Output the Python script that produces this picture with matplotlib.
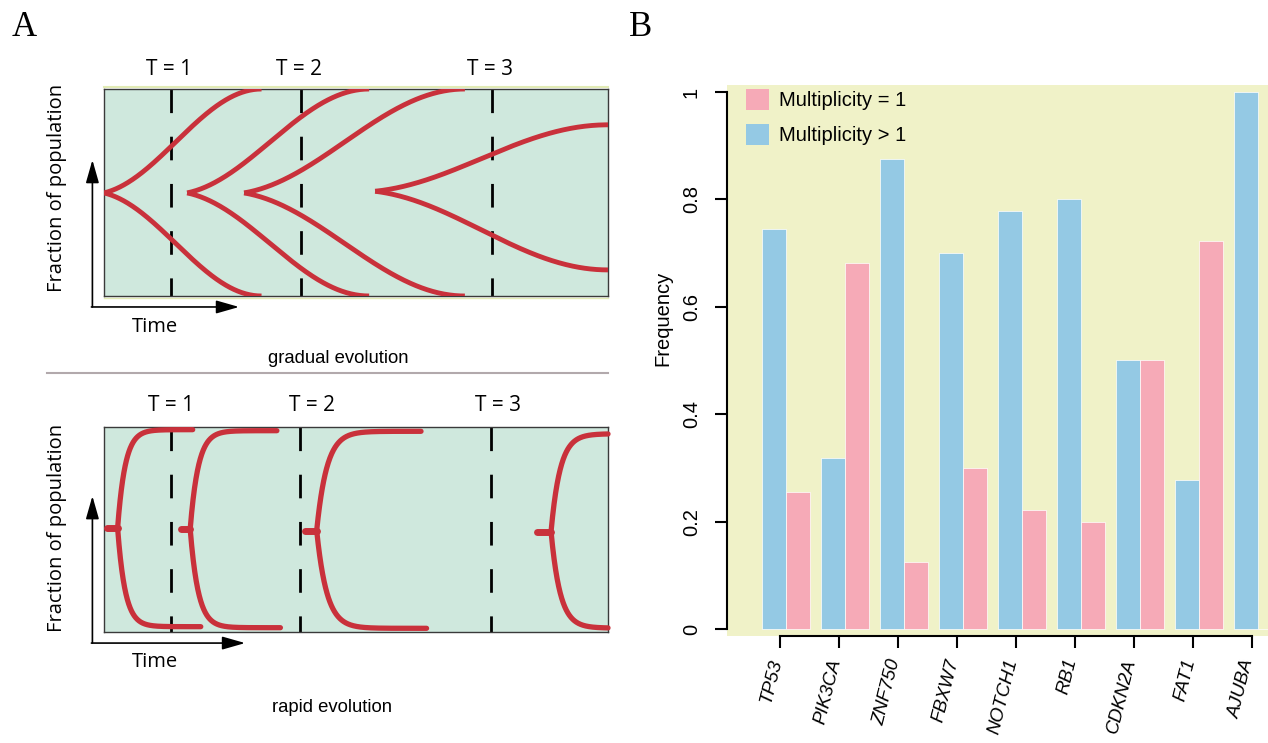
import numpy as np
import matplotlib
matplotlib.use("Agg")
import matplotlib.pyplot as plt
import matplotlib.transforms as mtransforms
from matplotlib import font_manager
from matplotlib.patches import Patch

plt.rcParams['lines.scale_dashes'] = False

# ---- panel B data ----
genes = ["TP53", "PIK3CA", "ZNF750", "FBXW7", "NOTCH1", "RB1", "CDKN2A", "FAT1", "AJUBA"]
mult_gt1 = [0.744, 0.318, 0.875, 0.700, 0.778, 0.800, 0.500, 0.278, 1.000]
mult_eq1 = [0.256, 0.682, 0.125, 0.300, 0.222, 0.200, 0.500, 0.722, 0.000]
freq_ticks = [0, 0.2, 0.4, 0.6, 0.8, 1]
freq_labels = ["0", "0.2", "0.4", "0.6", "0.8", "1"]

# ---- panel A schematic (box units: x 0..1 left->right, y 0..1 bottom->top) ----
time_labels = ["T = 1", "T = 2", "T = 3"]
grad_t_x = [0.133, 0.390, 0.770]
grad_label_x = [0.130, 0.386, 0.765]
rapid_t_x = [0.133, 0.388, 0.767]
rapid_label_x = [0.134, 0.412, 0.782]

# gradual clones: fork point, end x, upper / lower end y
grad_fork_x = [0.0, 0.165, 0.278, 0.538]
grad_fork_y = [0.498, 0.498, 0.498, 0.506]
grad_end_x = [0.3125, 0.526, 0.716, 1.0]
grad_top_y = [1.0, 1.0, 1.0, 0.827]
grad_bot_y = [0.0, 0.0, 0.0, 0.126]

# rapid clones: stub start, fork point, branch ends, sharpness
rapid_stub_x = [0.006, 0.152, 0.399, 0.859]
rapid_fork_x = [0.027, 0.171, 0.422, 0.887]
rapid_fork_y = [0.507, 0.502, 0.495, 0.490]
rapid_top_end = [0.176, 0.343, 0.629, 1.0]
rapid_bot_end = [0.192, 0.350, 0.640, 1.0]
rapid_top_y = [0.987, 0.982, 0.979, 0.966]
rapid_bot_y = [0.026, 0.021, 0.018, 0.020]
rapid_tau = [0.015, 0.016, 0.020, 0.018]

RED = "#c9313b"
MINT = "#cfe8dd"
BLUE = "#94c9e4"
PINK = "#f6aab7"
YEL = "#f0f2c8"


def has_font(name):
    try:
        font_manager.findfont(font_manager.FontProperties(family=name), fallback_to_default=False)
        return True
    except ValueError:
        return False


# condensed caption font (narrow Arial if present, else plain Arial a bit smaller)
if has_font("Liberation Sans Narrow"):
    cap_font = dict(family="Liberation Sans Narrow", fontsize=16)
else:
    cap_font = dict(family="Liberation Sans", fontsize=13.3)

W, H = 1268, 743
fig = plt.figure(figsize=(W / 100, H / 100), dpi=100)


def px_axes(x0, y0, x1, y1):
    return fig.add_axes([x0 / W, 1 - y1 / H, (x1 - x0) / W, (y1 - y0) / H])


def ease(t, a=0.08):
    g = lambda s: (1 - np.cos(np.pi * s)) / 2
    return (g(a + (1 - a) * t) - g(a)) / (1 - g(a))


def setup_box(ax):
    ax.set_xlim(0, 1)
    ax.set_ylim(0, 1)
    ax.set_facecolor(MINT)
    ax.set_xticks([])
    ax.set_yticks([])
    for s in ax.spines.values():
        s.set_color("#3a3a3a")
        s.set_linewidth(1.0)


def frame_labels(ax, t_x, label_x, label_y, arrow_y, arrow_top, arrow_right, time_y,
                 frac_y, caption, cap_x, cap_y):
    for x in t_x:
        ax.plot([x, x], [1, 0], color="black", lw=2, dashes=(17, 17), zorder=2)
    for x, s in zip(label_x, time_labels):
        ax.text(x, label_y, s, ha="center", va="center", fontsize=15, family="Open Sans")
    arrow = dict(arrowstyle="-|>,head_length=1.4,head_width=0.4", color="black",
                 lw=1.2, shrinkA=0, shrinkB=0, mutation_scale=10)
    ax.annotate("", xy=(-0.023, arrow_top), xytext=(-0.023, arrow_y),
                arrowprops=arrow, annotation_clip=False)
    ax.annotate("", xy=(arrow_right, arrow_y), xytext=(-0.025, arrow_y),
                arrowprops=arrow, annotation_clip=False)
    ax.text(0.101, time_y, "Time", ha="center", va="center", fontsize=14.5, family="Open Sans")
    ax.text(-0.093, frac_y, "Fraction of population", ha="center", va="center",
            rotation=90, fontsize=14.5, family="Open Sans")
    ax.text(cap_x, cap_y, caption, ha="center", va="center", **cap_font)


# ---- panel A top: gradual evolution ----
ax1 = px_axes(104, 89, 608, 296)
setup_box(ax1)
ax1.plot([0, 1], [1.01, 1.01], color="#e2ebb5", lw=1.5, clip_on=False)
ax1.plot([0, 1], [-0.01, -0.01], color="#e2ebb5", lw=1.0, clip_on=False)
for fx, fy, ex, ty, by in zip(grad_fork_x, grad_fork_y, grad_end_x, grad_top_y, grad_bot_y):
    t = np.linspace(0, 1, 200)
    x = fx + (ex - fx) * t
    ax1.plot(x, fy + (ty - fy) * ease(t), color=RED, lw=3.5, solid_capstyle="butt", zorder=3)
    ax1.plot(x, fy + (by - fy) * ease(t), color=RED, lw=3.5, solid_capstyle="butt", zorder=3)
frame_labels(ax1, grad_t_x, grad_label_x, 1.092, -0.053, 0.657, 0.268, -0.15, 0.522,
             "gradual evolution", 0.464, -0.304)
ax1.plot([-0.113, 1.0], [-0.372, -0.372], color="#b2a9ac", lw=1.5, clip_on=False)

# ---- panel A bottom: rapid evolution ----
ax2 = px_axes(104, 427, 608, 632)
setup_box(ax2)
for sx, fx, fy, te, be, ty, by, tau in zip(rapid_stub_x, rapid_fork_x, rapid_fork_y,
                                           rapid_top_end, rapid_bot_end, rapid_top_y,
                                           rapid_bot_y, rapid_tau):
    ax2.plot([sx, fx], [fy, fy], color=RED, lw=5, solid_capstyle="round", zorder=3)
    for end, yy in ((te, ty), (be, by)):
        x = np.linspace(fx, end, 300)
        f = (1 - np.exp(-(x - fx) / tau)) / (1 - np.exp(-(end - fx) / tau))
        ax2.plot(x, fy + (yy - fy) * f, color=RED, lw=3.8, solid_capstyle="round",
                 zorder=3, clip_on=False)
frame_labels(ax2, rapid_t_x, rapid_label_x, 1.107, -0.054, 0.663, 0.28, -0.146, 0.507,
             "rapid evolution", 0.452, -0.366)

# ---- panel B: bar chart ----
axB = px_axes(727, 85, 1268, 636)
axB.set_facecolor(YEL)
left = np.arange(len(genes)) * 2.5 + 0.5
axB.bar(left + 0.5, mult_gt1, width=1, color=BLUE, edgecolor="white", linewidth=0.5)
axB.bar(left + 1.5, mult_eq1, width=1, color=PINK, edgecolor="white", linewidth=0.5)
axB.set_xlim(-1.0, 21.92)
axB.set_ylim(-0.013, 1.013)

for s in ("top", "right"):
    axB.spines[s].set_visible(False)
xt = left + 0.75
axB.spines["left"].set_bounds(0, 1)
axB.spines["bottom"].set_bounds(xt[0], xt[-1])
for s in ("left", "bottom"):
    axB.spines[s].set_linewidth(1.5)

lab = dict(family="Liberation Sans")
axB.set_yticks(freq_ticks, freq_labels, rotation=90, va="center", fontsize=14.5, **lab)
axB.tick_params(axis="y", length=8.4, width=1.5, pad=10.5)
axB.set_xticks(xt, genes, rotation=76, ha="right", va="center", rotation_mode="anchor",
               fontstyle="italic", fontsize=13.5, **lab)
axB.tick_params(axis="x", length=8.6, width=1.5, pad=8)
shift = mtransforms.ScaledTranslation(-3.0 / 100, 0, fig.dpi_scale_trans)
for t in axB.get_xticklabels():
    t.set_transform(t.get_transform() + shift)

axB.text(-0.118, 0.577, "Frequency", transform=axB.transAxes, rotation=90,
         ha="center", va="center", fontsize=14.5, **lab)

handles = [Patch(facecolor=PINK, label="Multiplicity = 1"),
           Patch(facecolor=BLUE, label="Multiplicity > 1")]
leg = axB.legend(handles=handles, loc="upper left",
                 bbox_to_anchor=((746 - 727) / 541, (636 - 89) / 551),
                 frameon=False, borderpad=0, borderaxespad=0,
                 handlelength=1.15, handleheight=1.25, handletextpad=0.5,
                 labelspacing=0.65, prop=dict(family="Liberation Sans", size=14.5))

# panel letters
fig.text(24 / W, 1 - 27 / H, "A", fontsize=25, family="Liberation Serif", ha="center", va="center")
fig.text(641 / W, 1 - 27 / H, "B", fontsize=25, family="Liberation Serif", ha="center", va="center")

fig.savefig("out.png", dpi=100)
